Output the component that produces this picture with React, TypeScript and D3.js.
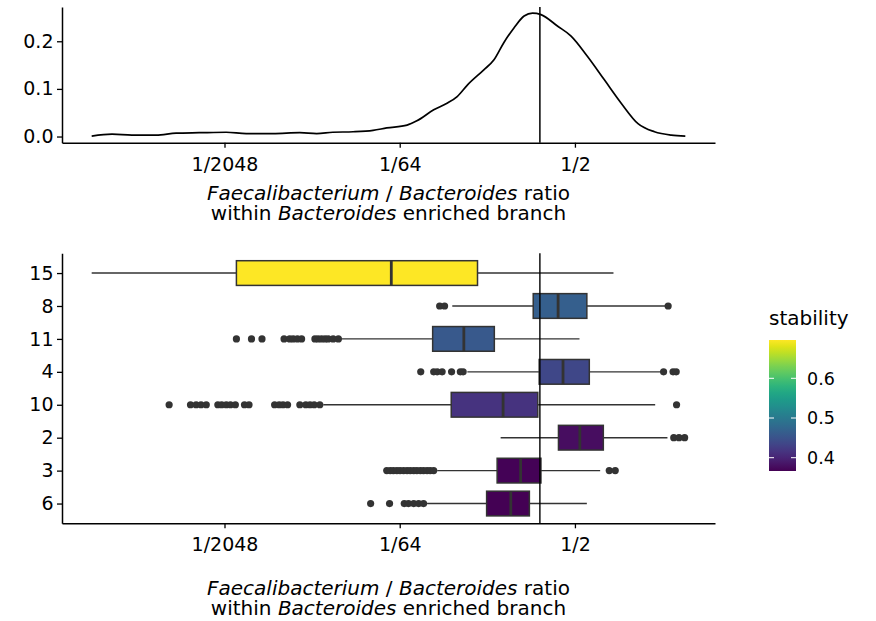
import React, { useEffect, useRef } from 'react';
import * as d3 from 'd3';

// x values are log2 of the Faecalibacterium / Bacteroides ratio
const densityLog2 = [-14.79, -14.21, -13.64, -12.95, -12.38, -11.72, -10.95, -10.38, -9.62, -8.85, -8.37, -7.91, -7.33, -6.76, -6.37, -5.79, -5.51, -5.03, -4.65, -4.36, -4.07, -3.6, -3.31, -3.03, -2.74, -2.45, -2.21, -1.97, -1.5, -1.11, -0.64, -0.16, 0.32, 0.8, 1.27, 1.75, 2.15];
const densityValues = [0.001, 0.005, 0.003, 0.003, 0.007, 0.008, 0.009, 0.006, 0.006, 0.008, 0.006, 0.009, 0.01, 0.013, 0.018, 0.024, 0.033, 0.056, 0.07, 0.084, 0.108, 0.14, 0.161, 0.197, 0.228, 0.253, 0.259, 0.256, 0.232, 0.211, 0.168, 0.119, 0.07, 0.027, 0.01, 0.003, 0.001];

const clusters = ['15', '8', '11', '4', '10', '2', '3', '6'];
const stability = [0.6965, 0.465, 0.458, 0.437, 0.415, 0.378, 0.368, 0.3665];
const whiskerLow = [-14.79, -4.5, -7.7, -4.07, -8.18, -3.12, -4.93, -5.22];
const q1 = [-10.66, -2.19, -5.06, -2.02, -4.53, -1.47, -3.22, -3.52];
const median = [-6.24, -1.48, -4.17, -1.34, -3.05, -0.86, -2.55, -2.83];
const q3 = [-3.78, -0.66, -3.3, -0.59, -2.06, -0.19, -1.97, -2.3];
const whiskerHigh = [0.1, 1.58, -0.87, 1.51, 1.29, 1.64, -0.28, -0.66];
const outliers = [
  [],
  [-4.86, -4.72, 1.66],
  [-10.66, -10.23, -9.93, -9.3, -9.14, -9.04, -8.92, -8.8, -8.42, -8.33, -8.23, -8.13, -8.04, -7.9, -7.75],
  [-5.4, -5.03, -4.93, -4.79, -4.52, -4.27, -4.19, 1.53, 1.8, 1.89],
  [-12.58, -11.97, -11.81, -11.67, -11.52, -11.19, -11.08, -10.95, -10.83, -10.69, -10.43, -10.3, -9.57, -9.44, -9.33, -9.2, -8.85, -8.68, -8.56, -8.44, -8.28, 1.9],
  [1.82, 1.97, 2.13],
  [-6.37, -6.27, -6.18, -6.08, -5.99, -5.89, -5.79, -5.7, -5.6, -5.51, -5.41, -5.32, -5.22, -5.13, -5.03, -0.02, 0.15],
  [-6.83, -6.29, -5.87, -5.75, -5.6, -5.46, -5.32],
];

const xTicks = [-11, -6, -1];
const xTickLabels = ['1/2048', '1/64', '1/2'];
const densityTicks = [0, 0.1, 0.2];
const legendTicks = [0.4, 0.5, 0.6];
const cutoffLog2 = -2;

const FONT = '"DejaVu Sans", sans-serif';
const FS_TICK = 19;
const FS_TITLE = 20;

export default function App() {
  const ref = useRef<SVGSVGElement>(null);

  useEffect(() => {
    if (!ref.current) return;
    const svg = d3.select(ref.current);
    svg.selectAll('*').remove();

    const left = 62, right = 715;

    // shared log2 x scale, padded 5% like ggplot
    const [lo, hi] = d3.extent(densityLog2) as [number, number];
    const pad = (hi - lo) * 0.05;
    const x = d3.scaleLog().base(2).domain([2 ** (lo - pad), 2 ** (hi + pad)]).range([left, right]);

    const styleAxis = (g: any) => {
      g.select('.domain').attr('stroke', '#000').attr('stroke-width', 1.5);
      g.selectAll('.tick line').attr('stroke', '#000').attr('stroke-width', 1.3);
      g.selectAll('.tick text').attr('fill', '#000').style('font-family', FONT).style('font-size', FS_TICK + 'px');
    };

    // ---------- top: density ----------
    const topY0 = 142.7, topY1 = 7;
    const dMax = d3.max(densityValues) as number;
    const y = d3.scaleLinear().domain([-dMax * 0.05, dMax * 1.05]).range([topY0, topY1]);

    const top = svg.append('g');
    const line = d3.line<number>()
      .x((_, i) => x(2 ** densityLog2[i]))
      .y(d => y(d))
      .curve(d3.curveMonotoneX);
    top.append('path')
      .datum(densityValues)
      .attr('fill', 'none')
      .attr('stroke', '#000')
      .attr('stroke-width', 1.7)
      .attr('d', line);

    top.append('line')
      .attr('x1', x(2 ** cutoffLog2)).attr('x2', x(2 ** cutoffLog2))
      .attr('y1', topY1).attr('y2', topY0)
      .attr('stroke', '#000').attr('stroke-width', 1.5);

    top.append('g')
      .attr('transform', `translate(0,${topY0})`)
      .call(d3.axisBottom(x).tickValues(xTicks.map(v => 2 ** v)).tickFormat((_, i) => xTickLabels[i]).tickSize(5).tickSizeOuter(0).tickPadding(9.5))
      .call(styleAxis);
    top.append('g')
      .attr('transform', `translate(${left},0)`)
      .call(d3.axisLeft(y).tickValues(densityTicks).tickFormat(d3.format('.1f')).tickSize(5).tickSizeOuter(0).tickPadding(3.5))
      .call(styleAxis);

    const axisTitle = (yy: number) => {
      const t1 = svg.append('text')
        .attr('x', (left + right) / 2).attr('y', yy)
        .attr('text-anchor', 'middle')
        .style('font-family', FONT).style('font-size', FS_TITLE + 'px');
      t1.append('tspan').attr('font-style', 'italic').text('Faecalibacterium');
      t1.append('tspan').text(' / ');
      t1.append('tspan').attr('font-style', 'italic').text('Bacteroides');
      t1.append('tspan').text(' ratio');
      const t2 = svg.append('text')
        .attr('x', (left + right) / 2).attr('y', yy + 20.5)
        .attr('text-anchor', 'middle')
        .style('font-family', FONT).style('font-size', FS_TITLE + 'px');
      t2.append('tspan').text('within ');
      t2.append('tspan').attr('font-style', 'italic').text('Bacteroides');
      t2.append('tspan').text(' enriched branch');
    };
    axisTitle(199.5);

    // ---------- bottom: boxplots ----------
    const botY0 = 523.3, botY1 = 253.3;
    const yc = d3.scalePoint().domain(clusters).range([botY1, botY0]).padding(0.6);
    const boxH = yc.step() * 0.75;
    const color = d3.scaleSequential(d3.interpolateViridis).domain(d3.extent(stability) as [number, number]);

    const bot = svg.append('g');
    const grey = '#333333';
    clusters.forEach((c, i) => {
      const cy = yc(c) as number;
      const g = bot.append('g');
      g.append('line')
        .attr('x1', x(2 ** whiskerLow[i])).attr('x2', x(2 ** q1[i]))
        .attr('y1', cy).attr('y2', cy).attr('stroke', grey).attr('stroke-width', 1.4);
      g.append('line')
        .attr('x1', x(2 ** q3[i])).attr('x2', x(2 ** whiskerHigh[i]))
        .attr('y1', cy).attr('y2', cy).attr('stroke', grey).attr('stroke-width', 1.4);
      g.append('rect')
        .attr('x', x(2 ** q1[i])).attr('width', x(2 ** q3[i]) - x(2 ** q1[i]))
        .attr('y', cy - boxH / 2).attr('height', boxH)
        .attr('fill', color(stability[i])).attr('stroke', grey).attr('stroke-width', 1.5);
      g.append('line')
        .attr('x1', x(2 ** median[i])).attr('x2', x(2 ** median[i]))
        .attr('y1', cy - boxH / 2).attr('y2', cy + boxH / 2)
        .attr('stroke', grey).attr('stroke-width', 2.8);
      g.selectAll('circle')
        .data(outliers[i])
        .join('circle')
        .attr('cx', d => x(2 ** d)).attr('cy', cy).attr('r', 3.6)
        .attr('fill', grey);
    });

    bot.append('line')
      .attr('x1', x(2 ** cutoffLog2)).attr('x2', x(2 ** cutoffLog2))
      .attr('y1', botY1).attr('y2', botY0)
      .attr('stroke', '#000').attr('stroke-width', 1.4);

    bot.append('g')
      .attr('transform', `translate(0,${botY0})`)
      .call(d3.axisBottom(x).tickValues(xTicks.map(v => 2 ** v)).tickFormat((_, i) => xTickLabels[i]).tickSize(5).tickSizeOuter(0).tickPadding(9.5))
      .call(styleAxis);
    bot.append('g')
      .attr('transform', `translate(${left},0)`)
      .call(d3.axisLeft(yc).tickSize(5).tickSizeOuter(0).tickPadding(3.5))
      .call(styleAxis);

    axisTitle(594.5);

    // ---------- legend ----------
    const lx = 769, lw = 27, lTop = 340, lBot = 471;
    const ly = d3.scaleLinear().domain(color.domain()).range([lBot, lTop]);
    const defs = svg.append('defs');
    const grad = defs.append('linearGradient').attr('id', 'stab-grad')
      .attr('x1', 0).attr('x2', 0).attr('y1', 1).attr('y2', 0);
    d3.range(0, 1.0001, 0.05).forEach(t => {
      grad.append('stop').attr('offset', t).attr('stop-color', d3.interpolateViridis(t));
    });
    const leg = svg.append('g');
    leg.append('text')
      .attr('x', lx).attr('y', 325)
      .style('font-family', FONT).style('font-size', '20px')
      .text('stability');
    leg.append('rect')
      .attr('x', lx).attr('y', lTop).attr('width', lw).attr('height', lBot - lTop)
      .attr('fill', 'url(#stab-grad)');
    legendTicks.forEach(v => {
      const yy = ly(v);
      leg.append('line').attr('x1', lx).attr('x2', lx + 5).attr('y1', yy).attr('y2', yy)
        .attr('stroke', '#fff').attr('stroke-width', 1);
      leg.append('line').attr('x1', lx + lw - 5).attr('x2', lx + lw).attr('y1', yy).attr('y2', yy)
        .attr('stroke', '#fff').attr('stroke-width', 1);
      leg.append('text')
        .attr('x', 807).attr('y', yy).attr('dy', '0.36em')
        .style('font-family', FONT).style('font-size', '17.5px')
        .text(d3.format('.1f')(v));
    });
  }, []);

  return (
    <div style={{ position: 'absolute', left: 0, top: 0, width: 876, height: 621, background: '#fff' }}>
      <svg ref={ref} width={876} height={621} style={{ display: 'block' }} />
    </div>
  );
}
